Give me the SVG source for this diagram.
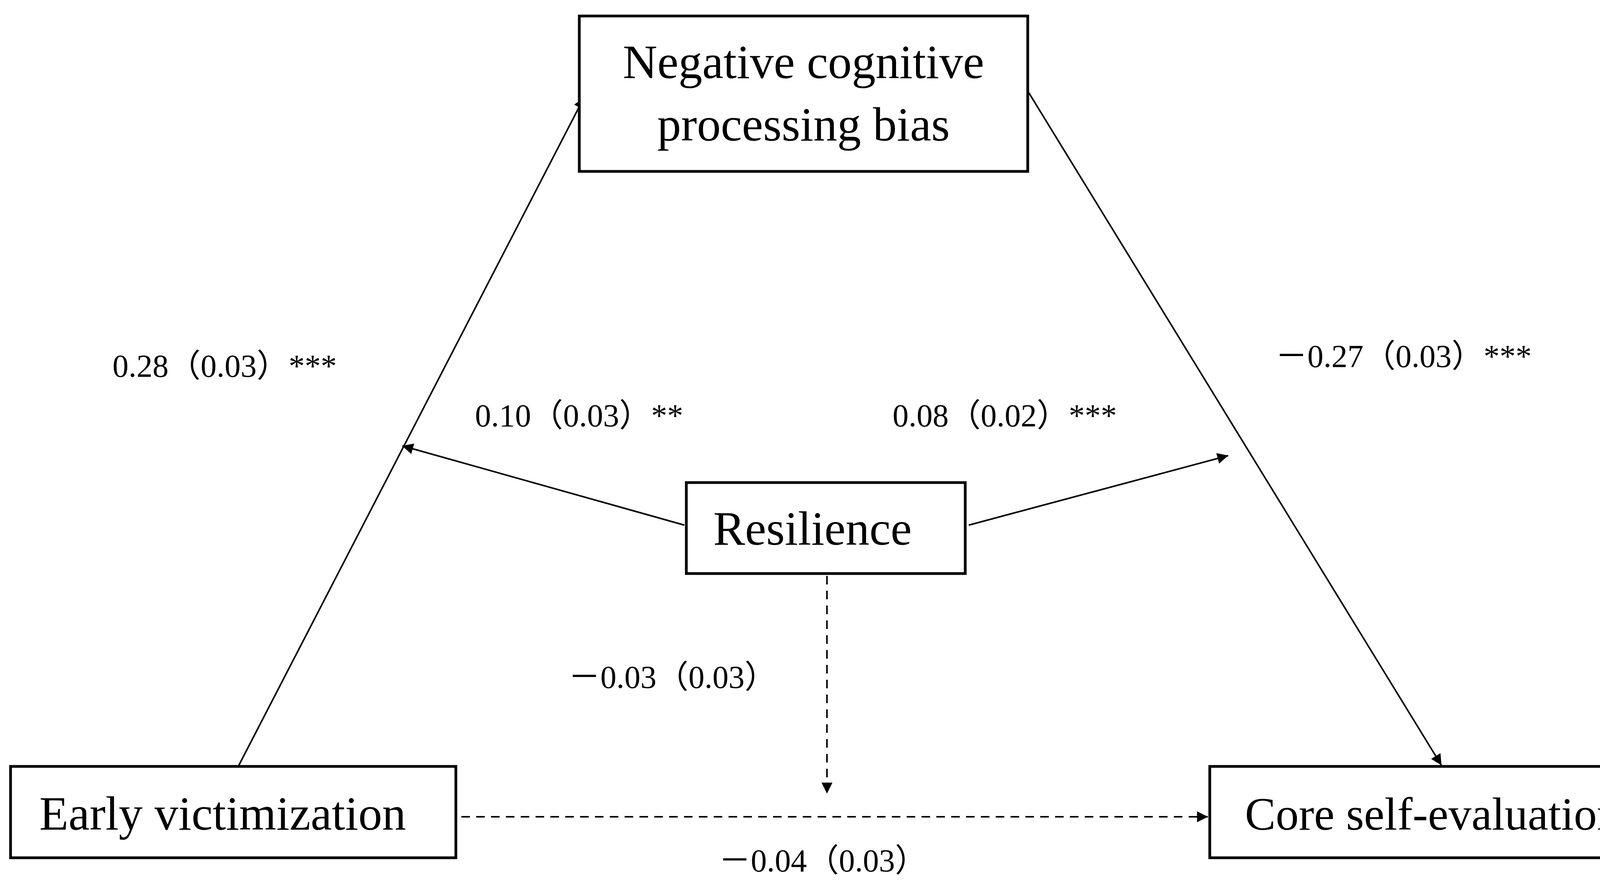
<svg xmlns="http://www.w3.org/2000/svg" width="4306" height="2277" viewBox="0 0 4306 2277">
<style>
.box{fill:#fff;stroke:#000;stroke-width:7}
.t{font-family:"Liberation Serif","Noto Sans CJK SC",serif;font-size:122px;text-anchor:middle;fill:#000}
.l{font-family:"Liberation Serif","Noto Sans CJK SC",serif;font-size:82px;fill:#000}
.c{stroke:#000;stroke-width:4;fill:none;marker-end:url(#a)}
.d{stroke-dasharray:22 16}
</style>
<defs><marker id="a" viewBox="0 0 10 10" refX="10" refY="5" markerWidth="8" markerHeight="8" orient="auto" markerUnits="userSpaceOnUse" style="overflow:visible"><path d="M0,0 L10,5 L0,10 z" transform="scale(3.5) translate(-7,-3.6)" fill="#000"/></marker></defs>
<rect width="4306" height="2277" fill="#fff"/>
<g id="connectors">
<path class="c" d="M610,1963 L1495,250"/>
<path class="c" d="M2631,233 L3690,1960"/>
<path class="c" d="M1752,1345 L1030,1142"/>
<path class="c" d="M2480,1345 L3144,1167"/>
<path class="c d" d="M2117,1475 L2117,2032"/>
<path class="c d" d="M1181,2092 L3092,2092"/>
</g>
<g id="n1"><rect class="box" x="1483" y="41" width="1148" height="398"/><text class="t" x="2057" y="200">Negative cognitive</text><text class="t" x="2057" y="360">processing bias</text></g>
<g id="n2"><rect class="box" x="1757" y="1236" width="714" height="233"/><text class="t" x="2080" y="1395">Resilience</text></g>
<g id="n3"><rect class="box" x="27" y="1963" width="1140" height="234"/><text class="t" x="570" y="2125">Early victimization</text></g>
<g id="n4"><rect class="box" x="3097" y="1963" width="1187" height="234"/><text class="t" x="3690" y="2125" style="font-size:118px">Core self-evaluations</text></g>
<g id="labels">
<text class="l" x="288" y="965">0.28（0.03）***</text>
<text class="l" x="1216" y="1092">0.10（0.03）**</text>
<text class="l" x="2285" y="1092">0.08（0.02）***</text>
<text class="l" x="3265" y="940">－0.27（0.03）***</text>
<text class="l" x="1455" y="1762">－0.03（0.03）</text>
<text class="l" x="1840" y="2232">－0.04（0.03）</text>
</g>
</svg>
